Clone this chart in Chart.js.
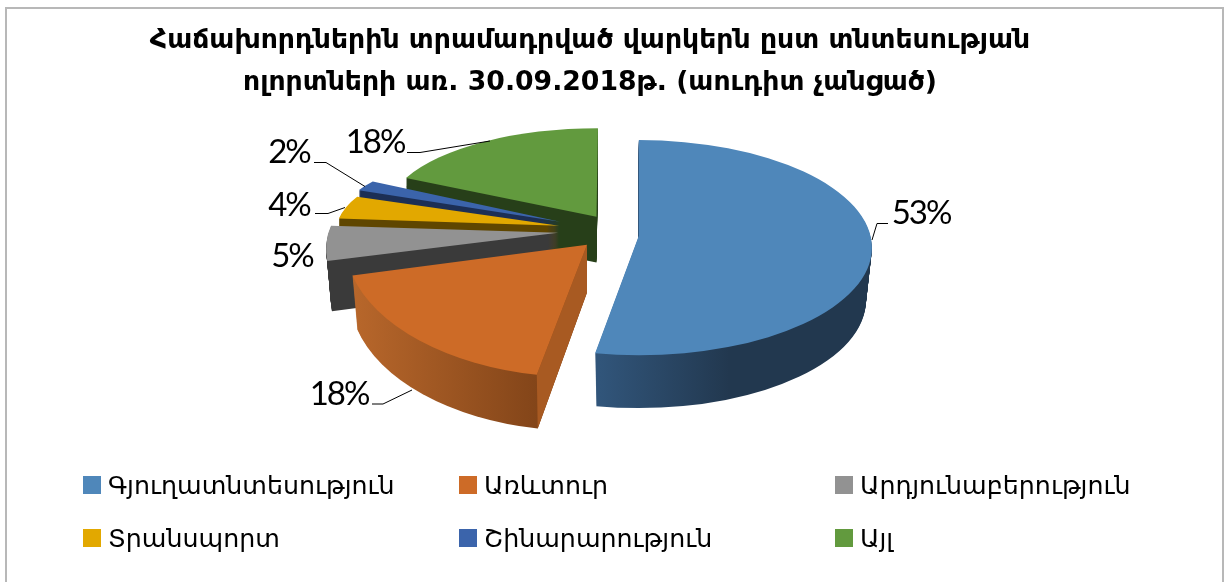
<!DOCTYPE html>
<html>
<head>
<meta charset="utf-8">
<script src="https://cdn.jsdelivr.net/npm/chart.js@4/dist/chart.umd.js"></script>
<style>
  body { margin: 0; background: #fff; }
  canvas { display: block; }
</style>
</head>
<body>
<canvas id="myChart" width="1225" height="582"></canvas>
<script>
const sectors = ['Գյուղատնտեսություն', 'Առևտուր', 'Արդյունաբերություն', 'Տրանսպորտ', 'Շինարարություն', 'Այլ'];
const shares = [53, 18, 5, 4, 2, 18];
const colors = ['#4f87ba', '#cd6b27', '#929292', '#e2a800', '#3b64ab', '#629a3e'];
const titleLines = ['Հաճախորդներին տրամադրված վարկերն ըստ տնտեսության', 'ոլորտների առ. 30.09.2018թ. (աուդիտ չանցած)'];

// The picture is a perspective 3D pie, so each slice gets its own ellipse.
// Numbers are in design pixels around the pie centre (DX, DY), radius R0.
const DX = 590, DY = 263.5, R0 = 161.5;
const sliceShapes = [
    { ax: 639, ay: 235, cx: 639, cy: 247, rx: 234, ry: 108, rot: 0, depth: 53, apexDepth: 53, shrink: 6, wall: [600, 730, '#31557a', '#22384f'] },
    { ax: 587, ay: 244, cx: 581, cy: 241, rx: 237, ry: 136, rot: 0, depth: 54, apexDepth: 48, shrink: 5, wall: [352, 537, '#b8672b', '#834519'], face: '#a85a22' },
    { ax: 558, ay: 232, cx: 552, cy: 301, rx: 235, ry: 112, rot: 0.3, depth: 49, apexDepth: 49, shrink: 5, wall: [0, 1, '#3a3a3a', '#3a3a3a'] },
    { ax: 559, ay: 225, cx: 560, cy: 293.5, rx: 235, ry: 107, rot: 0.3, depth: 30, apexDepth: 30, shrink: 0, wall: [0, 1, '#5f4600', '#5f4600'] },
    { ax: 560, ay: 221, cx: 561.6, cy: 287, rx: 235, ry: 107, rot: 0.3, depth: 26, apexDepth: 26, shrink: 0, wall: [0, 1, '#1c2f55', '#1c2f55'] },
    { ax: 596.5, ay: 216, cx: 598, cy: 214, rx: 213, ry: 87, rot: 0, depth: 46, apexDepth: 46, shrink: 0, wall: [0, 1, '#273f19', '#273f19'] }
];
const drawOrder = [5, 4, 3, 2, 1, 0];

const labelSpots = [
    { x: 921, y: 224, line: [[872, 240], [877, 223.5], [888, 223.5]] },
    { x: 339, y: 405, line: [[412, 390], [383, 404], [372, 404]] },
    { x: 292, y: 267, line: null },
    { x: 289, y: 216, line: [[315, 213.5], [328, 213.5], [345, 207.5]] },
    { x: 289, y: 163, line: [[314, 162.5], [326, 162.5], [365, 186.5]] },
    { x: 375, y: 153, line: [[407, 152.5], [420, 152.5], [490, 141]] }
];
const legendCols = [83, 459, 835];
const legendRows = [476, 529];

function slicePath(ctx, s, el, f) {
    const ax = s.ax, ay = s.ay + s.apexDepth * f;
    ctx.beginPath();
    ctx.moveTo(ax, ay);
    ctx.ellipse(s.cx, s.cy + s.depth * f, s.rx - s.shrink * f, s.ry, s.rot, el.startAngle, el.endAngle);
    ctx.closePath();
}

function rimPoint(s, angle, f) {
    return [
        s.cx + (s.rx - s.shrink * f) * Math.cos(angle),
        s.cy + s.depth * f + s.ry * Math.sin(angle)
    ];
}

const pie3d = {
    id: 'pie3d',
    beforeDatasetsDraw(chart) {
        const ctx = chart.ctx;
        const arcs = chart.getDatasetMeta(0).data;
        const k = arcs[0].outerRadius / R0;
        ctx.save();
        ctx.translate(arcs[0].x, arcs[0].y);
        ctx.scale(k, k);
        ctx.translate(-DX, -DY);
        drawOrder.forEach(i => {
            const s = sliceShapes[i], el = arcs[i];
            const grad = ctx.createLinearGradient(s.wall[0], 0, s.wall[1], 0);
            grad.addColorStop(0, s.wall[2]);
            grad.addColorStop(1, s.wall[3]);
            ctx.fillStyle = grad;
            for (let d = s.depth; d > 0; d--) {
                slicePath(ctx, s, el, d / s.depth);
                ctx.fill();
            }
            if (s.face) {
                const tip = rimPoint(s, el.startAngle, 0), low = rimPoint(s, el.startAngle, 1);
                ctx.fillStyle = s.face;
                ctx.beginPath();
                ctx.moveTo(s.ax, s.ay);
                ctx.lineTo(tip[0], tip[1]);
                ctx.lineTo(low[0], low[1]);
                ctx.lineTo(s.ax, s.ay + s.apexDepth);
                ctx.closePath();
                ctx.fill();
            }
            ctx.fillStyle = colors[i];
            slicePath(ctx, s, el, 0);
            ctx.fill();
        });
        ctx.restore();
        return false;
    },
    afterDraw(chart) {
        const ctx = chart.ctx;
        ctx.save();
        // frame
        ctx.strokeStyle = '#b8b8b8';
        ctx.lineWidth = 2;
        ctx.beginPath();
        ctx.moveTo(6, 582);
        ctx.lineTo(6, 8);
        ctx.lineTo(1223, 8);
        ctx.lineTo(1223, 582);
        ctx.stroke();

        // data labels
        ctx.fillStyle = '#000';
        ctx.strokeStyle = '#000';
        ctx.lineWidth = 1;
        ctx.font = '33px Lato';
        ctx.letterSpacing = '-2px';
        ctx.textAlign = 'center';
        ctx.textBaseline = 'alphabetic';
        shares.forEach((v, i) => {
            const spot = labelSpots[i];
            ctx.fillText(v + '%', spot.x, spot.y);
            if (spot.line) {
                ctx.beginPath();
                spot.line.forEach((p, n) => n ? ctx.lineTo(p[0], p[1]) : ctx.moveTo(p[0], p[1]));
                ctx.stroke();
            }
        });

        // legend, three columns
        ctx.textAlign = 'left';
        ctx.letterSpacing = '0px';
        ctx.font = '25.3px "DejaVu Sans"';
        sectors.forEach((name, i) => {
            const x = legendCols[i % 3], y = legendRows[Math.floor(i / 3)];
            ctx.fillStyle = colors[i];
            ctx.fillRect(x, y, 18, 18);
            ctx.fillStyle = '#000';
            ctx.fillText(name, x + 25, y + 18);
        });
        ctx.restore();
    }
};

new Chart(document.getElementById('myChart'), {
    type: 'pie',
    data: {
        labels: sectors,
        datasets: [{ data: shares, backgroundColor: colors, borderWidth: 0 }]
    },
    options: {
        responsive: false,
        animation: false,
        layout: { padding: { left: 0, right: 45, top: 21, bottom: 157 } },
        plugins: {
            legend: { display: false },
            tooltip: { enabled: false },
            title: {
                display: true,
                text: titleLines,
                color: '#000',
                font: { family: '"DejaVu Sans"', size: 26.7, weight: 'bold', lineHeight: 1.54 },
                padding: { top: 0, bottom: 0 }
            }
        }
    },
    plugins: [pie3d]
});
</script>
</body>
</html>
